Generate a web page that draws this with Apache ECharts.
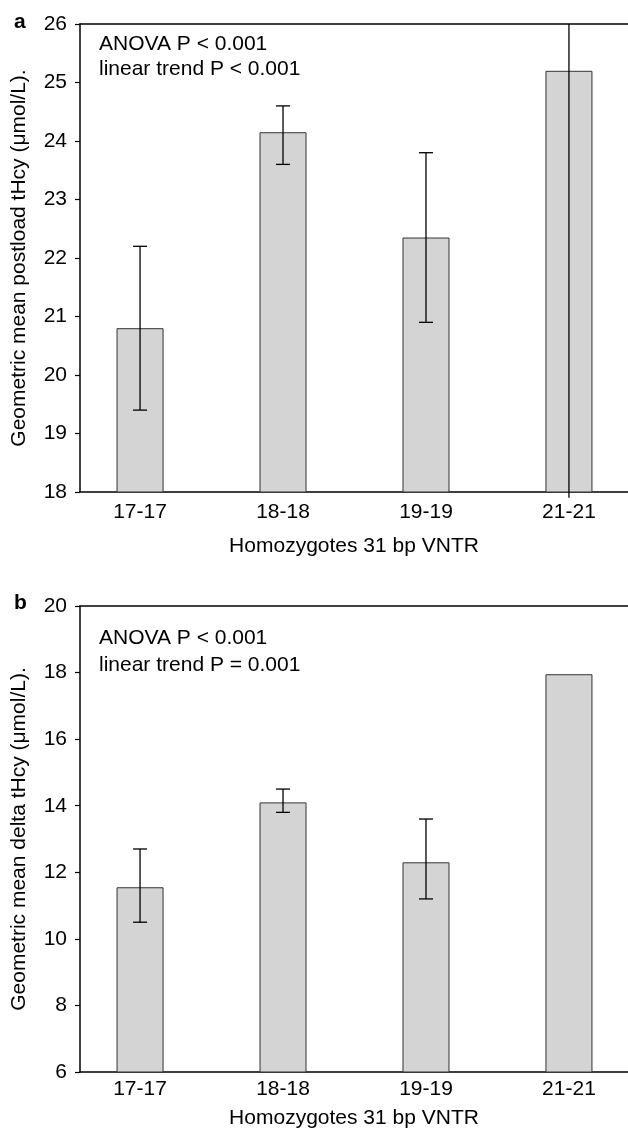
<!DOCTYPE html>
<html>
<head>
<meta charset="utf-8">
<script src="https://cdn.jsdelivr.net/npm/echarts@6/dist/echarts.min.js"></script>
<style>
  html, body { margin: 0; padding: 0; background: #fff; }
  #chart { width: 628px; height: 1130px; }
</style>
</head>
<body>
<div id="chart"></div>
<script>
// genotype groups
const categories = ["17-17", "18-18", "19-19", "21-21"];

// panel a: geometric mean postload tHcy with error bar ends
const postloadMean = [20.8, 24.15, 22.35, 25.2];
const postloadLow = [19.4, 23.6, 20.9, 17.9];
const postloadHigh = [22.2, 24.6, 23.8, 26];

// panel b: geometric mean delta tHcy (no error bar for 21-21)
const deltaMean = [11.55, 14.1, 12.3, 17.95];
const deltaLow = [10.5, 13.8, 11.2, null];
const deltaHigh = [12.7, 14.5, 13.6, null];

const FONT = "Liberation Sans, Arial, sans-serif";
const FS = 21;
const xMin = -0.42;
const xMax = 3.413;

function barData(vals) {
  return vals.map((v, i) => [i, v]);
}
function errData(low, high) {
  return low
    .map((l, i) => (l == null ? null : [i, l, high[i]]))
    .filter((d) => d);
}

function errSeries(idx, low, high, yMin, yMax) {
  return {
    type: "custom",
    xAxisIndex: idx * 2,
    yAxisIndex: idx,
    data: errData(low, high),
    encode: { x: 0, y: [1, 2] },
    z: 5,
    renderItem: (params, api) => {
      const x = api.value(0);
      const lo = api.value(1);
      const hi = api.value(2);
      const pLo = api.coord([x, lo]);
      const pHi = api.coord([x, hi]);
      const cap = 7;
      const style = { stroke: "#000", lineWidth: 1.3 };
      const children = [
        { type: "line", shape: { x1: pLo[0], y1: pLo[1], x2: pHi[0], y2: pHi[1] }, style },
      ];
      // caps only where the bar end sits inside the plot
      if (lo > yMin) {
        children.push({ type: "line", shape: { x1: pLo[0] - cap, y1: pLo[1], x2: pLo[0] + cap, y2: pLo[1] }, style });
      }
      if (hi < yMax) {
        children.push({ type: "line", shape: { x1: pHi[0] - cap, y1: pHi[1], x2: pHi[0] + cap, y2: pHi[1] }, style });
      }
      return { type: "group", children };
    },
  };
}

function barSeries(idx, vals) {
  return {
    type: "bar",
    xAxisIndex: idx * 2,
    yAxisIndex: idx,
    data: barData(vals),
    barWidth: 47,
    itemStyle: { color: "#d4d4d4", borderColor: "#333", borderWidth: 1 },
    silent: true,
  };
}

function bottomAxis(idx, nameGap, margin) {
  return {
    type: "value",
    gridIndex: idx,
    min: xMin,
    max: xMax,
    position: "bottom",
    name: "Homozygotes 31 bp VNTR",
    nameLocation: "middle",
    nameGap: nameGap,
    nameTextStyle: { fontFamily: FONT, fontSize: FS, color: "#000" },
    axisLine: { onZero: false, lineStyle: { color: "#000", width: 1.5 } },
    axisTick: { show: false },
    splitLine: { show: false },
    axisLabel: {
      customValues: [0, 1, 2, 3],
      formatter: (v) => categories[Math.round(v)],
      fontFamily: FONT,
      fontSize: FS,
      color: "#000",
      margin: margin,
    },
  };
}

function topAxis(idx) {
  return {
    type: "value",
    gridIndex: idx,
    min: xMin,
    max: xMax,
    position: "top",
    axisLine: { onZero: false, lineStyle: { color: "#000", width: 1.5 } },
    axisTick: { show: false },
    axisLabel: { show: false },
    splitLine: { show: false },
  };
}

function leftAxis(idx, min, max, interval, name) {
  return {
    type: "value",
    gridIndex: idx,
    min: min,
    max: max,
    interval: interval,
    position: "left",
    name: name,
    nameLocation: "middle",
    nameGap: 50,
    nameTextStyle: { fontFamily: FONT, fontSize: FS, color: "#000" },
    axisLine: { show: true, onZero: false, lineStyle: { color: "#000", width: 1.5 } },
    axisTick: { show: true, length: 5, lineStyle: { color: "#000", width: 1.2 } },
    splitLine: { show: false },
    axisLabel: { fontFamily: FONT, fontSize: FS, color: "#000", margin: 13 },
  };
}

function note(x, y, text, bold) {
  return {
    type: "text",
    left: x,
    top: y,
    style: {
      text: text,
      fontFamily: FONT,
      fontSize: FS,
      fontWeight: bold ? "bold" : "normal",
      fill: "#000",
    },
  };
}

const chart = echarts.init(document.getElementById("chart"));
chart.setOption({
  animation: false,
  backgroundColor: "#fff",
  grid: [
    { left: 80, top: 24, width: 548, height: 468 },
    { left: 80, top: 606, width: 548, height: 467 },
  ],
  xAxis: [bottomAxis(0, 44, 10), topAxis(0), bottomAxis(1, 36, 7), topAxis(1)],
  yAxis: [
    leftAxis(0, 18, 26, 1, "Geometric mean postload tHcy (μmol/L)."),
    leftAxis(1, 6, 20, 2, "Geometric mean delta tHcy (μmol/L)."),
  ],
  graphic: [
    note(14, 12, "a", true),
    note(14, 593, "b", true),
    note(99, 34, "ANOVA P < 0.001"),
    note(99, 59, "linear trend P < 0.001"),
    note(99, 628, "ANOVA P < 0.001"),
    note(99, 655, "linear trend P = 0.001"),
  ],
  series: [
    barSeries(0, postloadMean),
    errSeries(0, postloadLow, postloadHigh, 18, 26),
    barSeries(1, deltaMean),
    errSeries(1, deltaLow, deltaHigh, 6, 20),
  ],
});
</script>
</body>
</html>
